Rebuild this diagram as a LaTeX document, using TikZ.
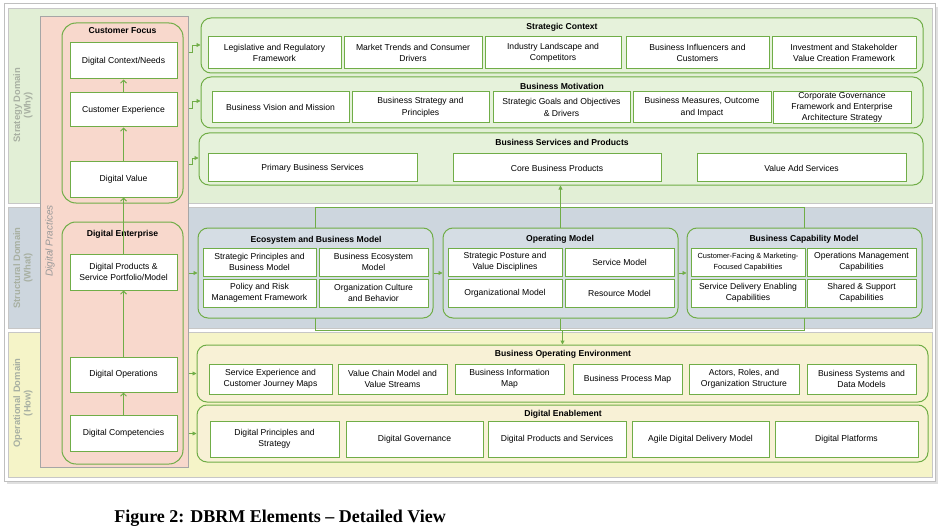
\documentclass[tikz,border=0pt]{standalone}
\usepackage{fontspec}
\setmainfont{Liberation Sans}
\newfontfamily\capfont{Liberation Serif}
\usetikzlibrary{arrows.meta,positioning}
\definecolor{lgreen}{RGB}{112,173,71}
\definecolor{stratfill}{RGB}{226,239,214}
\definecolor{stratpanel}{RGB}{230,242,219}
\definecolor{structfill}{RGB}{205,214,222}
\definecolor{structpanel}{RGB}{213,221,228}
\definecolor{opfill}{RGB}{245,244,200}
\definecolor{oppanel}{RGB}{248,241,214}
\definecolor{practfill}{RGB}{248,216,204}
\definecolor{domaintext}{RGB}{168,176,162}

\begin{document}
\begin{tikzpicture}[x=1pt, y=-1pt,
   domainband/.style={draw=black!22, line width=0.8pt},
   domainlabel/.style={rotate=90, align=center, text=domaintext, font=\bfseries\fontsize{9.4}{10.5}\selectfont},
   panel/.style={draw=lgreen, line width=1pt, rounded corners=10pt},
   paneltitle/.style={font=\bfseries\fontsize{8.6}{10}\selectfont, inner sep=0pt},
   box/.style={draw=lgreen, line width=1pt, fill=white, align=center, inner sep=1pt, font=\fontsize{8.6}{11.5}\selectfont},
   flow/.style={draw=lgreen, line width=0.8pt, -{Triangle[length=4pt,width=4pt]}},
   rise/.style={draw=lgreen, line width=1pt, -{Straight Barb[length=3pt,width=6pt]}},
   thinlink/.style={draw=lgreen, line width=0.6pt}]

\useasboundingbox (0,0) rectangle (940,532);
\fill[black!12] (7,7) rectangle (938,484);
\draw[black!25, line width=1pt, fill=white] (4,4) rectangle (935,481);

% domains
\node[domainband, fill=stratfill, minimum width=924, minimum height=195] (sd) at (470,105.5) {};
\node[domainband, fill=structfill, minimum width=924, minimum height=121] (std) at (470,267.5) {};
\node[domainband, fill=opfill, minimum width=924, minimum height=145] (od) at (470,404.5) {};
\node[domainlabel] (sdl) at (23,105) {Strategy Domain\\(Why)};
\node[domainlabel] (stdl) at (23,268) {Structural Domain\\(What)};
\node[domainlabel] (odl) at (23,403) {Operational Domain\\(How)};

\coordinate (frametl) at (315.5,207);
\coordinate (framebr) at (804.5,330);
\draw[thinlink] (frametl) rectangle (framebr);

% digital practices
\node[draw=black!35, line width=1pt, fill=practfill, minimum width=148, minimum height=450] (dp) at (114,242) {};
\node[rotate=90, font=\itshape\fontsize{10}{12}\selectfont, text=black!40] (dpl) at (50,241) {Digital Practices};

\node[panel, rounded corners=14pt, minimum width=121, minimum height=180] (custfocus) at (122.5,113) {};
\node[paneltitle] (custfocust) at (122.5,31) {Customer Focus};
\node[box, minimum width=107, minimum height=36] (ctxneeds) at (123.5,61) {Digital Context/Needs};
\node[box, minimum width=107, minimum height=34] (custexp) at (123.5,110) {Customer Experience};
\node[box, minimum width=107, minimum height=35] (dvalue) at (123.5,179.5) {Digital Value};

\node[panel, rounded corners=14pt, minimum width=121, minimum height=242] (digent) at (122.5,343) {};
\node[paneltitle] (digentt) at (122.5,234) {Digital Enterprise};
\node[box, minimum width=107, minimum height=36] (dprodport) at (123.5,272) {Digital Products \&\\Service Portfolio/Model};
\node[box, minimum width=107, minimum height=35] (dops) at (123.5,374.5) {Digital Operations};
\node[box, minimum width=107, minimum height=36] (dcomp) at (123.5,433) {Digital Competencies};

% strategy
\node[panel, fill=stratpanel, minimum width=722, minimum height=55] (sc) at (562,45.5) {};
\node[paneltitle] (sct) at (562,27) {Strategic Context};
\node[box, minimum width=133, minimum height=32] (legis) at (274.5,53) {Legislative and Regulatory\\Framework};
\node[box, minimum width=138, minimum height=32] (market) at (413,53) {Market Trends and Consumer\\Drivers};
\node[box, minimum width=136, minimum height=32] (industry) at (553,53) {Industry Landscape and\\Competitors};
\node[box, minimum width=143, minimum height=32] (influencers) at (697.5,53) {Business Influencers and\\Customers};
\node[box, minimum width=144, minimum height=32] (invest) at (844,53) {Investment and Stakeholder\\Value Creation Framework};

\node[panel, fill=stratpanel, minimum width=722, minimum height=51] (bm) at (562,102.5) {};
\node[paneltitle] (bmt) at (562,86) {Business Motivation};
\node[box, minimum width=137, minimum height=31] (vision) at (280.5,107.5) {Business Vision and Mission};
\node[box, minimum width=137, minimum height=31] (bstrategy) at (420.5,107.5) {Business Strategy and\\Principles};
\node[box, minimum width=137, minimum height=31] (goals) at (561.5,107.5) {Strategic Goals and Objectives\\\& Drivers};
\node[box, minimum width=138, minimum height=31] (measures) at (702,107.5) {Business Measures, Outcome\\and Impact};
\node[box, minimum width=138, minimum height=31, font=\fontsize{8.6}{11.3}\selectfont] (corpgov) at (842,107.5) {Corporate Governance\\Framework and Enterprise\\Architecture Strategy};

\node[panel, fill=stratpanel, minimum width=724, minimum height=52] (bsp) at (561,159) {};
\node[paneltitle] (bspt) at (562,142) {Business Services and Products};
\node[box, minimum width=209, minimum height=28] (primary) at (312.5,168) {Primary Business Services};
\node[box, minimum width=208, minimum height=28] (core) at (557,168) {Core Business Products};
\node[box, minimum width=209, minimum height=28] (valueadd) at (801.5,168) {Value Add Services};

% structure
\node[panel, fill=structpanel, minimum width=235, minimum height=90] (eco) at (315.5,273) {};
\node[paneltitle] (ecot) at (316,240) {Ecosystem and Business Model};
\node[box, minimum width=113, minimum height=28] (stratprin) at (259.5,262) {Strategic Principles and\\Business Model};
\node[box, minimum width=109, minimum height=28] (ecomodel) at (373.5,262) {Business Ecosystem\\Model};
\node[box, minimum width=113, minimum height=28] (policy) at (259.5,293) {Policy and Risk\\Management Framework};
\node[box, minimum width=109, minimum height=28] (culture) at (373.5,293) {Organization Culture\\and Behavior};

\node[panel, fill=structpanel, minimum width=235, minimum height=90] (opm) at (560.5,273) {};
\node[paneltitle] (opmt) at (560,239) {Operating Model};
\node[box, minimum width=114, minimum height=28] (posture) at (505,262) {Strategic Posture and\\Value Disciplines};
\node[box, minimum width=109, minimum height=28] (svcmodel) at (619.5,262) {Service Model};
\node[box, minimum width=114, minimum height=28] (orgmodel) at (505,293) {Organizational Model};
\node[box, minimum width=109, minimum height=28] (resmodel) at (619.5,293) {Resource Model};

\node[panel, fill=structpanel, minimum width=235, minimum height=90] (bcm) at (804.5,273) {};
\node[paneltitle] (bcmt) at (804,239) {Business Capability Model};
\node[box, minimum width=114, minimum height=28, font=\fontsize{7.4}{10.5}\selectfont] (custcap) at (748,262) {Customer-Facing \& Marketing-\\Focused Capabilities};
\node[box, minimum width=109, minimum height=28] (opscap) at (861.5,262) {Operations Management\\Capabilities};
\node[box, minimum width=114, minimum height=28] (delivcap) at (748,293) {Service Delivery Enabling\\Capabilities};
\node[box, minimum width=109, minimum height=28] (sharedcap) at (861.5,293) {Shared \& Support\\Capabilities};

% operations
\node[panel, fill=oppanel, minimum width=731, minimum height=57] (boe) at (562.5,373.5) {};
\node[paneltitle] (boet) at (563,354) {Business Operating Environment};
\node[box, minimum width=123, minimum height=30] (journey) at (270.5,379) {Service Experience and\\Customer Journey Maps};
\node[box, minimum width=109, minimum height=30] (valuechain) at (392.5,379) {Value Chain Model and\\Value Streams};
\node[box, minimum width=109, minimum height=30] (infomap) at (509.5,379) {Business Information\\Map};
\node[box, minimum width=109, minimum height=30] (procmap) at (627.5,379) {Business Process Map};
\node[box, minimum width=110, minimum height=30] (actors) at (744,379) {Actors, Roles, and\\Organization Structure};
\node[box, minimum width=109, minimum height=30] (systems) at (861.5,379) {Business Systems and\\Data Models};

\node[panel, fill=oppanel, minimum width=731, minimum height=57] (digenable) at (562.5,433.5) {};
\node[paneltitle] (digenablet) at (563,414) {Digital Enablement};
\node[box, minimum width=129, minimum height=36] (dprin) at (274.5,439) {Digital Principles and\\Strategy};
\node[box, minimum width=137, minimum height=36] (dgov) at (414.5,439) {Digital Governance};
\node[box, minimum width=138, minimum height=36] (dprod) at (557,439) {Digital Products and Services};
\node[box, minimum width=137, minimum height=36] (agile) at (700.5,439) {Agile Digital Delivery Model};
\node[box, minimum width=143, minimum height=36] (platforms) at (846.5,439) {Digital Platforms};

% connectors
\draw[rise] (dcomp.north) -- (dops.south);
\draw[rise] (dops.north) -- (dprodport.south);
\draw[rise] (dprodport.north) -- (dvalue.south);
\draw[rise] (dvalue.north) -- (custexp.south);
\draw[rise] (custexp.north) -- (ctxneeds.south);

\draw[flow] (dp.east |- 0,52) -- ++(4,0) |- (sc.west |- 0,45);
\draw[flow] (dp.east |- 0,108) -- ++(4,0) |- (bm.west |- 0,101);
\draw[flow] (dp.east |- 0,164) -- ++(4,0) |- (bsp.west |- 0,158);
\draw[flow] (dp.east |- eco.west) -- (eco.west);
\draw[flow] (dp.east |- boe.west) -- (boe.west);
\draw[flow] (dp.east |- digenable.west) -- (digenable.west);

\draw[flow] (eco.east) -- (opm.west);
\draw[flow] (opm.east) -- (bcm.west);
\draw[flow] (opm.north) -- (opm.north |- bsp.south);
\draw[thinlink] (opm.south) -- ++(0,12);
\draw[flow, line width=1.2pt] (bcm.south) -- ++(0,12) -| (boe.north);

\node[font=\capfont\bfseries\fontsize{18}{20}\selectfont] (caption) at (280,518) {Figure 2: DBRM Elements \textendash{} Detailed View};

\end{tikzpicture}
\end{document}
